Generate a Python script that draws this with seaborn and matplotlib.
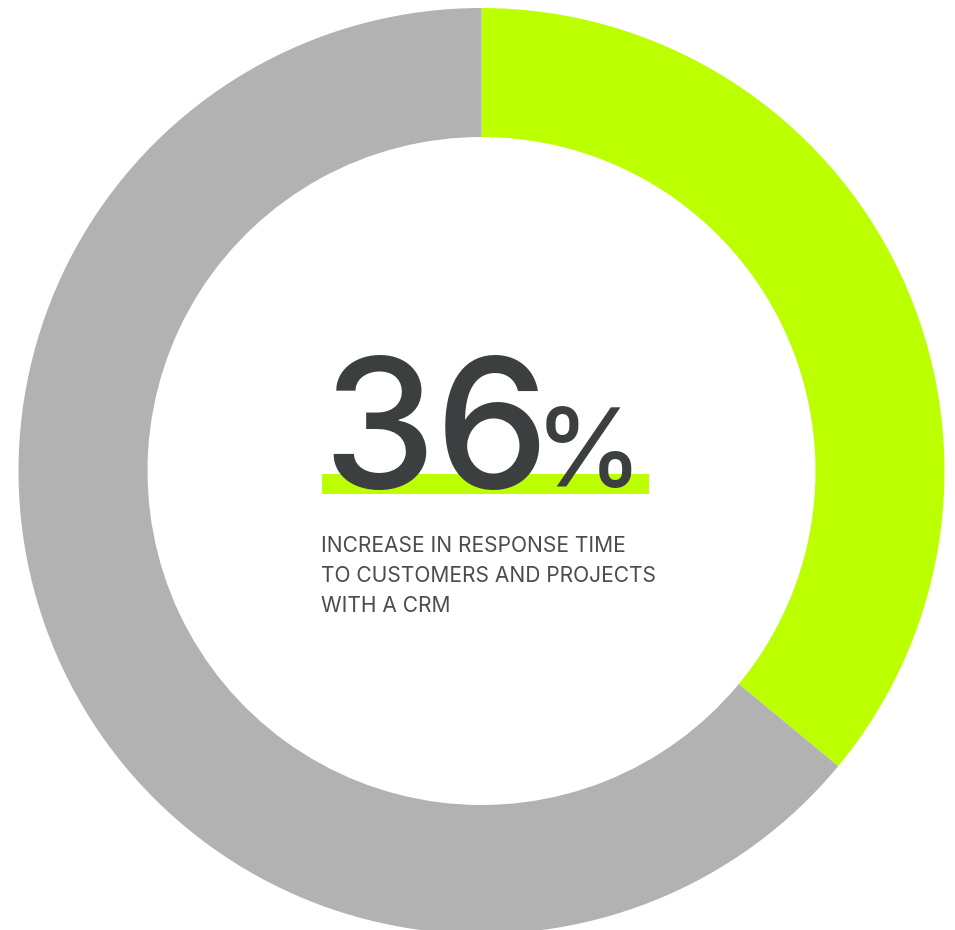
import matplotlib
matplotlib.use("Agg")
import matplotlib.pyplot as plt
import seaborn as sns

# Data
categories = ["Increase in response time", "Remainder"]
values = [36, 64]
colors = ["#BBFF00", "#B1B2B1"]
headline = "36"
headline_unit = "%"
caption_lines = ["INCREASE IN RESPONSE TIME", "TO CUSTOMERS AND PROJECTS", "WITH A CRM"]

sns.set_theme(style="white")
plt.rcParams['font.family'] = ['Inter', 'DejaVu Sans']

W, H = 955, 930
fig = plt.figure(figsize=(W / 100, H / 100), dpi=100)
ax = fig.add_axes([0, 0, 1, 1])

cx, cy = 481.5, H - 471
R = 463
ring = 129
ax.pie(values, colors=colors, startangle=90, counterclock=False,
       center=(cx, cy), radius=R, frame=True,
       wedgeprops=dict(width=ring, linewidth=0))
ax.set_xlim(0, W)
ax.set_ylim(0, H)
ax.set_aspect('equal')
ax.axis('off')

# highlight bar
ax.add_patch(plt.Rectangle((322, H - 494), 327, 20, color="#BBFF00", lw=0, zorder=3))

dark = "#3C3F40"
ax.text(322, H - 488, headline, fontsize=130, color=dark, va='baseline', ha='left',
        fontweight='medium', zorder=4)
ax.text(535, H - 487, headline_unit, fontsize=78, color=dark, va='baseline', ha='left',
        fontweight='medium', zorder=4)

for i, line in enumerate(caption_lines):
    ax.text(321, H - 552 - 30 * i, line, fontsize=15.1, color="#4A4C4D", va='baseline',
            ha='left', fontweight='normal', zorder=4)

fig.savefig("out.png", dpi=100, facecolor="white")
